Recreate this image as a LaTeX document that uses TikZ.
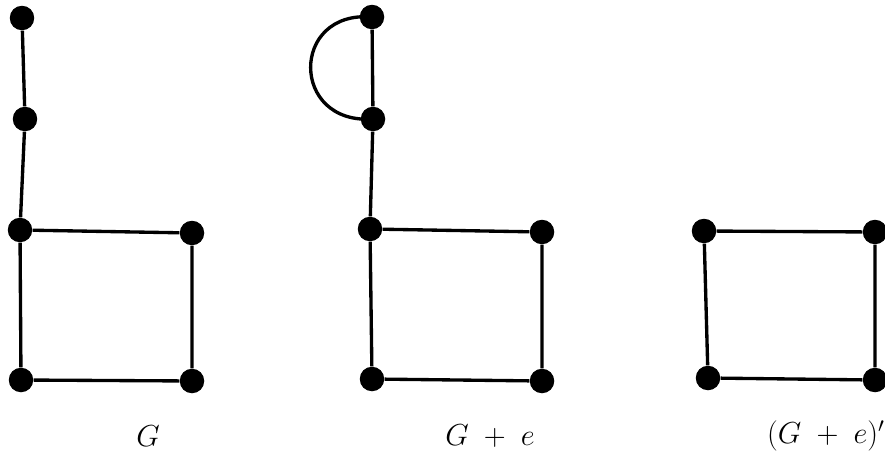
\documentclass[tikz,border=0pt]{standalone}
\begin{document}
\begin{tikzpicture}[x=0.02cm,y=-0.02cm]
\tikzset{vtx/.style={circle, fill=black, inner sep=0pt, minimum size=0.49cm},
  edge/.style={line width=1.9pt},
  lbl/.style={font=\fontsize{17}{20}\selectfont}}
\useasboundingbox (0,0) rectangle (885,456);

% G
\node[vtx] (g1) at (22,18) {};
\node[vtx] (g2) at (25,119) {};
\node[vtx] (g3) at (20,230) {};
\node[vtx] (g4) at (192,233) {};
\node[vtx] (g5) at (21,380) {};
\node[vtx] (g6) at (192,381) {};
\draw[edge] (g1) -- (g2) -- (g3) -- (g4) -- (g6) -- (g5) -- (g3);
\node[lbl] (lg) at (148,436) {$G$};

% G + e
\node[vtx] (h1) at (372,17) {};
\node[vtx] (h2) at (373,119) {};
\node[vtx] (h3) at (370,229) {};
\node[vtx] (h4) at (542,232) {};
\node[vtx] (h5) at (372,379) {};
\node[vtx] (h6) at (542,381) {};
\draw[edge] (h1) -- (h2) -- (h3) -- (h4) -- (h6) -- (h5) -- (h3);
\draw[edge] (h1.center) .. controls (290,10) and (290,125) .. (h2.center);
\node[lbl] (lh) at (490,436) {$G\;+\;e$};

% (G + e)'
\node[vtx] (k1) at (704,231) {};
\node[vtx] (k2) at (875,232) {};
\node[vtx] (k3) at (708,378) {};
\node[vtx] (k4) at (875,380) {};
\draw[edge] (k1) -- (k2) -- (k4) -- (k3) -- (k1);
\node[lbl] (lk) at (826,436) {$(G\;+\;e)'$};
\end{tikzpicture}
\end{document}
